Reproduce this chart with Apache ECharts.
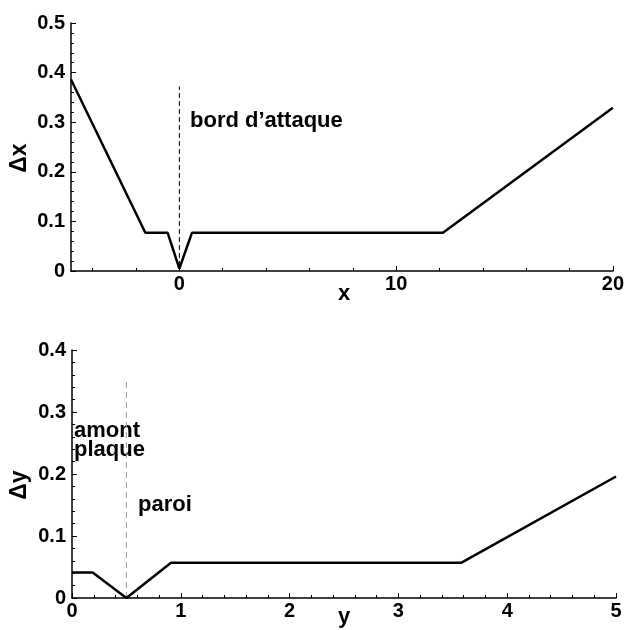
<!DOCTYPE html>
<html>
<head>
<meta charset="utf-8">
<script src="https://cdn.jsdelivr.net/npm/echarts@6/dist/echarts.min.js"></script>
<style>
  html, body { margin: 0; padding: 0; background: #fff; }
  #chart { width: 627px; height: 630px; }
</style>
</head>
<body>
<div id="chart"></div>
<script>
// Streamwise mesh spacing Δx against x
const xPoints = [-5, -1.57, -0.54, 0, 0.58, 12.16, 20];
const dxValues = [0.386, 0.077, 0.077, 0.005, 0.077, 0.077, 0.329];

// Wall-normal mesh spacing Δy against y
const yPoints = [0, 0.19, 0.5, 0.91, 3.58, 5];
const dyValues = [0.041, 0.041, 0, 0.057, 0.057, 0.196];

// Reference markers: leading edge (x = 0) and wall (y = 0.5)
const leadingEdgeX = 0;
const leadingEdgeSpan = [0.01, 0.372];
const wallY = 0.5;
const wallSpan = [0, 0.349];

// Tick positions for the x axis of the upper panel
const xMajorTicks = [0, 10, 20];
const xMinorTicks = [-4, -2, 2, 4, 6, 8, 12, 14, 16, 18];

const FONT = '"Liberation Sans", Arial, Helvetica, sans-serif';
const INK = '#000';

const chart = echarts.init(document.getElementById('chart'), null, { renderer: 'canvas' });

const tickLabel = { color: INK, fontFamily: FONT, fontWeight: 'bold', fontSize: 20 };

function valueAxisY(grid, max) {
  return {
    type: 'value', gridIndex: grid, min: 0, max: max, interval: 0.1,
    axisLine: { show: true, onZero: false, lineStyle: { color: INK, width: 1.5 } },
    axisTick: { show: true, inside: true, length: 5, lineStyle: { color: INK, width: 1 } },
    minorTick: { show: true, splitNumber: 5, length: 3, lineStyle: { color: INK, width: 1 } },
    splitLine: { show: false },
    axisLabel: Object.assign({ margin: 6 }, tickLabel)
  };
}

const option = {
  backgroundColor: '#fff',
  animation: false,
  grid: [
    { left: 71, right: 11, top: 23, height: 248 },
    { left: 72, right: 11, top: 350, height: 248 }
  ],
  xAxis: [
    {
      type: 'value', gridIndex: 0, min: -5, max: 20,
      axisLine: { show: true, onZero: false, lineStyle: { color: INK, width: 1.5 } },
      axisTick: { show: true, inside: true, length: 5, customValues: xMajorTicks, lineStyle: { color: INK, width: 1 } },
      splitLine: { show: false },
      axisLabel: Object.assign({ margin: 3, customValues: xMajorTicks }, tickLabel)
    },
    {
      type: 'value', gridIndex: 0, min: -5, max: 20, position: 'bottom',
      axisLine: { show: false, onZero: false },
      axisTick: { show: true, inside: true, length: 3, customValues: xMinorTicks, lineStyle: { color: INK, width: 1 } },
      splitLine: { show: false },
      axisLabel: { show: false }
    },
    {
      type: 'value', gridIndex: 1, min: 0, max: 5, interval: 1,
      axisLine: { show: true, onZero: false, lineStyle: { color: INK, width: 1.5 } },
      axisTick: { show: true, inside: true, length: 5, lineStyle: { color: INK, width: 1 } },
      minorTick: { show: true, splitNumber: 5, length: 3, lineStyle: { color: INK, width: 1 } },
      splitLine: { show: false },
      axisLabel: Object.assign({ margin: 3 }, tickLabel)
    }
  ],
  yAxis: [valueAxisY(0, 0.5), valueAxisY(1, 0.4)],
  series: [
    {
      type: 'line', xAxisIndex: 0, yAxisIndex: 0, symbol: 'none',
      lineStyle: { color: INK, width: 1, type: [5, 3] },
      data: leadingEdgeSpan.map(v => [leadingEdgeX, v]),
      z: 1
    },
    {
      type: 'line', xAxisIndex: 0, yAxisIndex: 0, symbol: 'none',
      lineStyle: { color: INK, width: 2.5 },
      data: xPoints.map((x, i) => [x, dxValues[i]]),
      z: 3
    },
    {
      type: 'line', xAxisIndex: 2, yAxisIndex: 1, symbol: 'none',
      lineStyle: { color: '#999', width: 1, type: [6, 4] },
      data: wallSpan.map(v => [wallY, v]),
      z: 1
    },
    {
      type: 'line', xAxisIndex: 2, yAxisIndex: 1, symbol: 'none',
      lineStyle: { color: INK, width: 2.5 },
      data: yPoints.map((y, i) => [y, dyValues[i]]),
      z: 3
    }
  ],
  graphic: [
    { type: 'text', left: 190, top: 110, style: { text: 'bord d’attaque', font: 'bold 22px ' + FONT, fill: INK } },
    { type: 'text', left: 74, top: 420, style: { text: 'amont', font: 'bold 22px ' + FONT, fill: INK } },
    { type: 'text', left: 74, top: 439, style: { text: 'plaque', font: 'bold 22px ' + FONT, fill: INK } },
    { type: 'text', left: 138, top: 494, style: { text: 'paroi', font: 'bold 22px ' + FONT, fill: INK } },
    { type: 'text', x: 20, y: 158, rotation: Math.PI / 2,
      style: { text: 'Δx', font: 'bold 23px ' + FONT, fill: INK, align: 'center', verticalAlign: 'middle' } },
    { type: 'text', x: 20, y: 485, rotation: Math.PI / 2,
      style: { text: 'Δy', font: 'bold 23px ' + FONT, fill: INK, align: 'center', verticalAlign: 'middle' } },
    { type: 'text', x: 344, y: 294, style: { text: 'x', font: 'bold 22px ' + FONT, fill: INK, align: 'center', verticalAlign: 'middle' } },
    { type: 'text', x: 344, y: 617, style: { text: 'y', font: 'bold 22px ' + FONT, fill: INK, align: 'center', verticalAlign: 'middle' } }
  ]
};

chart.setOption(option);
</script>
</body>
</html>
